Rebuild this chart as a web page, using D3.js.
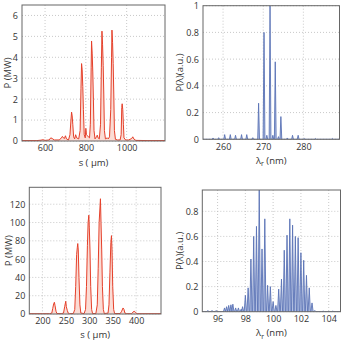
<!DOCTYPE html>
<html><head><meta charset="utf-8">
<script src="https://cdn.jsdelivr.net/npm/d3@7"></script>
<style>
html,body{margin:0;padding:0;background:#fff;}
svg text{font-family:"Open Sans","Liberation Sans",sans-serif;fill:#333;}
</style></head>
<body>
<svg id="c" width="346" height="340"></svg>
<script>
// ---- Panel A: temporal power, s (µm) vs P (MW)
const aS = [487,560,580,590,600,620,628,635,645,670,680,685,690,695,700,705,715,722,727,730,733,736,740,745,750,755,765,772,776,779,782,785,788,792,797,800,803,808,812,818,822,826,828,831,834,837,840,845,852,856,860,866,872,876,879,882,885,888,891,896,905,910,916,922,926,928,931,934,937,940,945,955,968,973,976,978,981,984,987,995,1010,1025,1030,1035,1045,1100,1188];
const aP = [0.02,0.02,0.04,0.06,0.03,0.05,0.15,0.12,0.05,0.05,0.15,0.22,0.15,0.12,0.25,0.1,0.05,0.3,1.0,1.38,1.2,0.8,0.2,0.1,0.3,0.15,0.1,0.5,2.5,3.7,3.4,2.6,1.5,0.3,0.15,0.6,0.3,0.25,0.2,0.15,0.8,3.5,4.78,4.2,3.3,2.0,0.5,0.1,0.2,0.28,0.15,0.1,0.8,3.5,5.25,4.6,3.6,2.2,0.5,0.1,0.15,0.1,0.2,1.5,4.0,5.3,4.7,3.7,2.2,0.5,0.08,0.05,0.05,0.3,1.6,1.78,1.5,0.8,0.15,0.05,0.05,0.12,0.2,0.1,0.03,0.02,0.02];
const aXTicks = [600,800,1000];
const aYTicks = [0,1,2,3,4,5,6];

// ---- Panel B: spectrum, λr (nm) vs P(λ) (a.u.)
const bPeakL = [257.5,258.9,260.4,261.8,263.1,264.6,265.9,267.4,268.85,270.2,270.9,271.7,272.4,273.0,273.8,274.4,276.0,277.3,278.7,280.2,283.0,287.2];
const bPeakH = [0.01,0.012,0.035,0.035,0.03,0.035,0.035,0.012,0.27,0.8,0.03,1.0,0.03,0.58,0.02,0.17,0.01,0.03,0.03,0.006,0.006,0.006];
const bXTicks = [260,270,280];
const bYTicks = [0,0.2,0.4,0.6,0.8,1];

// ---- Panel C: temporal power, s (µm) vs P (MW)
const cS = [172,200,215,220,222,224,225.5,227,229,231,240,245,247.5,249.8,251,253,255,258,266,269,271,273,274.5,275.4,276.5,278,280,282,289,292,294,296,297.5,299,300,301.5,303,305,307,314,317,319,321,323.8,325,326.5,328,330,332,340,342,344,346,347.3,348.5,350,352,354,366,369,372,374,376,380,390,393,395.7,398,402,453];
const cP = [0.3,0.3,0.3,1,6,11,12.8,9,3,0.5,0.3,1,8,13.9,8,4,1,0.3,0.5,5,30,65,73,77,70,40,10,1,0.5,5,30,75,100,108,95,70,30,5,0.5,0.5,10,50,100,126,100,70,30,5,0.5,1,10,45,78,85.7,70,30,5,0.5,0.5,3,6.6,5,1,0.3,0.3,2,3,2,0.3,0.3];
const cXTicks = [200,250,300,350,400];
const cYTicks = [0,20,40,60,80,100,120];

// ---- Panel D: spectrum, λr (nm) vs P(λ) (a.u.)
const dPeakL = [95.3,95.6,95.9,96.5,96.65,96.8,96.96,97.1,97.3,97.5,97.7,97.8,98.0,98.2,98.4,98.6,98.8,99.0,99.2,99.4,99.6,99.8,100.0,100.2,100.4,100.6,100.8,101.0,101.2,101.4,101.6,101.8,102.0,102.2,102.4,102.6,102.8,103.0,103.6,104.3];
const dPeakH = [0.01,0.01,0.01,0.03,0.04,0.05,0.055,0.06,0.03,0.03,0.02,0.04,0.13,0.19,0.42,0.6,0.68,0.97,0.5,0.74,0.21,0.2,0.08,0.05,0.18,0.26,0.49,0.61,0.74,0.69,0.6,0.59,0.47,0.41,0.29,0.19,0.07,0.01,0.005,0.005];
const dXTicks = [96,98,100,102,104];
const dYTicks = [0,0.2,0.4,0.6,0.8];

const svg = d3.select("#c");

function panel(o){
  const x = d3.scaleLinear().domain(o.xd).range([o.l,o.r]);
  const y = d3.scaleLinear().domain(o.yd).range([o.b,o.t]);
  const g = svg.append("g");
  g.selectAll(".gx").data(o.xt).enter().append("line")
    .attr("x1",d=>x(d)).attr("x2",d=>x(d)).attr("y1",o.t).attr("y2",o.b)
    .attr("stroke","#bbb").attr("stroke-width",0.8).attr("stroke-dasharray","1,2");
  g.selectAll(".gy").data(o.yt).enter().append("line")
    .attr("x1",o.l).attr("x2",o.r).attr("y1",d=>y(d)).attr("y2",d=>y(d))
    .attr("stroke","#bbb").attr("stroke-width",0.8).attr("stroke-dasharray","1,2");
  const area = d3.area().x(d=>x(d[0])).y0(y(0)).y1(d=>y(d[1]));
  const line = d3.line().x(d=>x(d[0])).y(d=>y(d[1]));
  const cp = "clip"+o.id;
  svg.append("clipPath").attr("id",cp).append("rect")
    .attr("x",o.l).attr("y",o.t).attr("width",o.r-o.l).attr("height",o.b-o.t);
  const dg = g.append("g").attr("clip-path",`url(#${cp})`);
  dg.append("path").datum(o.pts).attr("d",area).attr("fill",o.fill).attr("stroke","none");
  dg.append("path").datum(o.pts).attr("d",line).attr("fill","none")
    .attr("stroke",o.col).attr("stroke-width",o.sw).attr("stroke-linejoin","round");
  const ax = g.append("g").attr("transform",`translate(0,${o.b})`)
    .call(d3.axisBottom(x).tickValues(o.xt).tickSize(0).tickPadding(4).tickFormat(d3.format("d")));
  const ay = g.append("g").attr("transform",`translate(${o.l},0)`)
    .call(d3.axisLeft(y).tickValues(o.yt).tickSize(0).tickPadding(4).tickFormat(o.yf));
  [ax,ay].forEach(a=>{a.select(".domain").remove(); a.selectAll("text").attr("font-size",9).attr("fill","#333")
    .style("font-family",'"Open Sans","Liberation Sans",sans-serif');});
  g.append("rect").attr("x",o.l).attr("y",o.t).attr("width",o.r-o.l).attr("height",o.b-o.t)
    .attr("fill","none").attr("stroke","#666").attr("stroke-width",1);
  const xt = g.append("text").attr("x",(o.l+o.r)/2).attr("y",o.xty).attr("text-anchor","middle")
    .attr("font-size",9.5);
  o.xtitle(xt);
  g.append("text").attr("transform",`translate(${o.ytx},${(o.t+o.b)/2}) rotate(-90)`)
    .attr("text-anchor","middle").attr("dominant-baseline","middle").attr("font-size",9.5).text(o.ytitle);
}

function spikes(L,H,hw,x0,x1){
  const pts=[[x0,0]];
  L.forEach((c,i)=>{pts.push([c-hw,0],[c,H[i]],[c+hw,0]);});
  pts.push([x1,0]);
  return pts;
}

const sTitle = t=>{t.text("s ( μm)");};
const lTitle = t=>{t.append("tspan").text("λ"); t.append("tspan").attr("font-size",7).attr("dy",2.5).text("r");
  t.append("tspan").attr("dy",-2.5).text(" (nm)");};

panel({id:"a",l:22,r:165,t:5,b:141,xd:[487,1188],yd:[0,6.5],xt:aXTicks,yt:aYTicks,
  pts:aS.map((s,i)=>[s,aP[i]]),col:"#e5402a",fill:"#fbdcd5",sw:1,
  yf:d3.format("d"),xty:165.5,xtitle:sTitle,ytx:8,ytitle:"P (MW)"});

panel({id:"b",l:203,r:339.5,t:5.7,b:139.3,xd:[255,289],yd:[0,1],xt:bXTicks,yt:bYTicks,
  pts:spikes(bPeakL,bPeakH,0.22,255,289),col:"#5a73b5",fill:"#b3c0e2",sw:0.9,
  yf:d=>d===0?"0":d===1?"1":d3.format(".1f")(d),xty:163.5,xtitle:lTitle,ytx:180,ytitle:"P(λ)(a.u.)"});

panel({id:"c",l:29.3,r:161,t:187.3,b:314,xd:[172,453],yd:[0,138.5],xt:cXTicks,yt:cYTicks,
  pts:cS.map((s,i)=>[s,cP[i]]),col:"#e5402a",fill:"#fbdcd5",sw:1,
  yf:d3.format("d"),xty:337.5,xtitle:sTitle,ytx:9,ytitle:"P (MW)"});

panel({id:"d",l:202.3,r:340.5,t:190,b:311.7,xd:[94.9,104.85],yd:[0,0.97],xt:dXTicks,yt:dYTicks,
  pts:spikes(dPeakL,dPeakH,0.08,94.9,104.85),col:"#5a73b5",fill:"#b3c0e2",sw:0.9,
  yf:d=>d===0?"0":d3.format(".1f")(d),xty:336,xtitle:lTitle,ytx:180,ytitle:"P(λ)(a.u.)"});
</script>
</body></html>
